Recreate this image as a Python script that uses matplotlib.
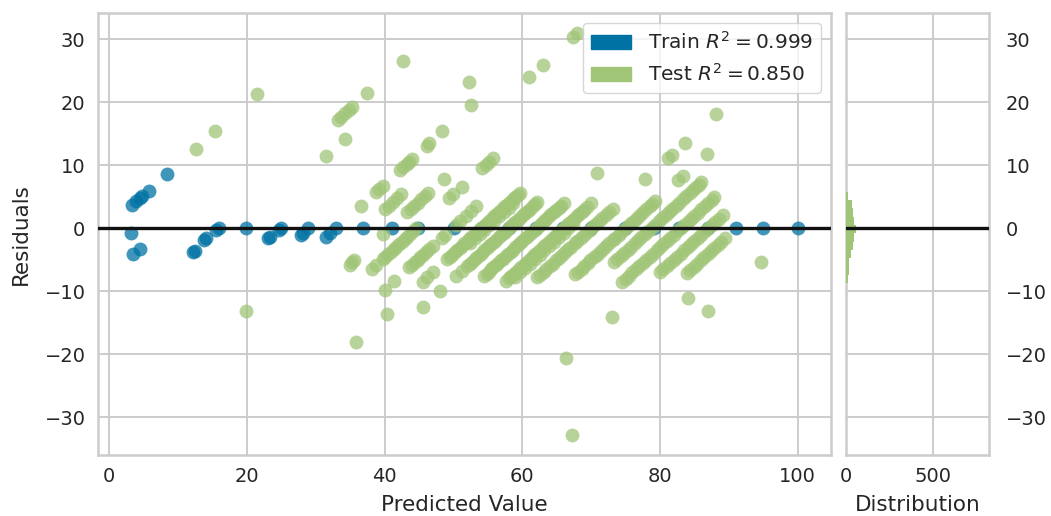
import numpy as np
import matplotlib
matplotlib.use("Agg")
import matplotlib.pyplot as plt
from matplotlib.patches import Patch

# Train points: predicted value and residual
train_pred = [3.3, 3.9, 4.4, 4.7, 5.8, 8.4, 3.2, 3.4, 4.5,
              12.2, 12.4, 13.8, 14.1, 15.5, 16.0, 19.9, 23.1, 23.3, 24.6, 25.0,
              27.9, 28.2, 28.9, 31.5, 32.0, 33.0, 36.8, 41.0, 44.8, 50.1, 54.2,
              58.1, 62.0, 65.9, 70.0, 74.9, 79.2, 82.8, 86.9, 91.0, 95.0, 100.0]
train_resid = [3.7, 4.3, 4.8, 5.1, 6.0, 8.6, -0.8, -4.1, -3.3,
               -3.7, -3.6, -1.9, -1.6, -0.3, 0.0, 0.0, -1.6, -1.3, -0.3, 0.0,
               -1.1, -0.8, 0.0, -1.3, -0.8, 0.0, 0.0, 0.0, 0.0, 0.0, 0.0,
               0.0, 0.0, 0.0, 0.0, 0.0, 0.0, 0.0, 0.0, 0.0, 0.0, 0.0]

# Test points grouped by their actual value (residual = predicted - actual)
test_actual = [0, 16, 20, 29, 33, 37, 40.7, 44.6, 49.8, 54, 54.7, 58, 62, 66, 66.7,
               70, 75, 78.7, 83, 87, 91, 95, 100]
test_pred = [
    [12.6, 15.4, 21.4],
    [33.2, 33.7, 34.3, 34.8, 35.2, 37.5, 42.6],
    [31.5, 34.2],
    [52.3],
    [19.8, 36.6, 38.8, 39.2, 39.7, 42.2, 42.7, 43.2, 43.6, 44.0, 46.1, 46.5, 48.4, 52.6],
    [40.0, 40.6, 41.2, 41.8, 42.4, 61.0, 63.0, 67.3, 68.0],
    [34.9, 35.3, 35.6, 39.8, 43.3, 43.8, 44.3, 44.8, 45.3, 45.8, 46.3, 48.6],
    [38.1, 38.8, 39.7, 40.1, 40.5, 40.9, 41.3, 41.7, 42.1, 42.5, 42.9, 43.3, 43.7,
     44.1, 44.6, 49.4, 50.0, 51.2, 54.2, 54.7, 55.2, 55.7],
    [40.0, 41.4, 43.6, 44.0, 44.4, 44.8, 45.2, 45.6, 46.0, 46.5, 47.0, 48.3, 48.7,
     50.3, 51.0, 51.8, 52.6, 53.3],
    [35.9, 40.4, 45.5, 46.2, 47.0, 49.1, 49.5, 49.8, 50.2, 50.5, 50.9, 51.2, 51.6,
     51.9, 52.3, 52.6, 53.0, 53.3, 53.7, 54.0, 54.4, 54.7, 55.1, 55.4, 55.8, 56.1,
     56.5, 56.8, 57.2, 57.5, 57.9, 58.2, 58.6, 58.9, 59.3, 59.6],
    [52.4, 53.1, 53.8, 54.5, 55.2, 55.9, 56.6, 57.3, 58.0, 58.7],
    [45.5, 48.0, 50.4, 51.2, 52.0, 52.4, 52.7, 53.1, 53.4, 53.8, 54.1, 54.5, 54.8,
     55.2, 55.5, 55.9, 56.2, 56.6, 56.9, 57.3, 57.6, 58.0, 58.3, 58.7, 59.0, 59.4,
     59.7, 60.1, 60.4, 60.8, 61.1, 61.5, 61.8, 62.2],
    [54.4, 54.8, 55.1, 55.5, 55.8, 56.2, 56.5, 56.9, 57.2, 57.6, 57.9, 58.3, 58.6,
     59.0, 59.3, 59.7, 60.0, 60.4, 60.7, 61.1, 61.4, 61.8, 62.1, 62.5, 62.8, 63.2,
     63.5, 63.9, 64.2, 64.6, 64.9, 65.3, 65.6, 66.1, 70.8],
    [57.7, 58.1, 58.4, 58.8, 59.1, 59.5, 59.8, 60.2, 60.5, 60.9, 61.2, 61.6, 61.9,
     62.3, 62.6, 63.0, 63.3, 63.7, 64.0, 64.4, 64.7, 65.1, 65.4, 65.8, 66.1, 66.5,
     66.8, 67.2, 67.5, 67.9, 68.2, 68.6, 68.9, 69.4, 70.0],
    [59.0, 59.7, 60.4, 61.1, 61.8, 62.5, 63.2, 63.9, 64.6, 65.3, 66.0, 66.7, 67.4],
    [62.2, 62.6, 63.1, 63.5, 64.0, 64.4, 64.9, 65.3, 65.8, 66.2, 66.7, 67.1, 67.6,
     68.0, 68.5, 68.9, 69.4, 69.8, 70.3, 70.7, 71.2, 71.6, 72.1, 72.6, 73.1,
     77.8, 81.1, 81.7, 83.6, 88.2],
    [67.7, 68.1, 68.6, 69.0, 69.5, 69.9, 70.4, 70.8, 71.3, 71.7, 72.2, 72.6, 73.1,
     73.5, 74.0, 74.4, 74.9, 75.3, 75.8, 76.2, 76.7, 77.1, 77.6, 78.0, 78.5, 78.9,
     79.3, 82.6, 83.3, 86.8],
    [73.3, 73.8, 74.3, 74.8, 75.3, 75.8, 76.3, 76.8, 77.3, 77.8, 78.3, 78.8, 79.3,
     79.8, 80.3, 80.8, 81.3, 81.8, 82.3, 82.8, 83.3, 83.8, 84.3, 84.8, 85.3, 85.6, 86.0],
    [74.5, 75.0, 75.5, 76.0, 76.5, 77.0, 77.5, 78.0, 78.5, 79.0, 79.5, 80.0, 80.5,
     81.0, 81.5, 82.0, 82.5, 83.0, 83.5, 84.0, 84.5, 85.0, 85.5, 86.0, 86.5, 87.0,
     87.5, 87.9],
    [66.4, 73.0, 80.0, 80.5, 81.0, 81.5, 82.0, 82.5, 83.0, 83.5, 84.0, 84.5, 85.0,
     85.5, 86.0, 86.5, 87.0, 87.5, 88.0, 88.5, 89.1],
    [83.9, 84.4, 84.9, 85.4, 85.9, 86.4, 86.9, 87.4, 87.9, 88.4, 88.9, 89.4],
    [84.0],
    [67.2, 86.9, 94.6],
]

# Residual histograms (bin bottom edge, counts)
test_bin_lo = [4.49, 3.17, 1.85, 0.53, -0.79, -2.11, -3.43, -4.76, -6.08, -7.40, -8.72]
test_bin_counts = [13, 32, 38, 45, 55, 45, 42, 26, 19, 15, 9]
test_bin_width = 1.32
train_bin_lo = [0.0, -0.26]
train_bin_counts = [780, 160]
train_bin_width = 0.26

train_r2 = 0.999
test_r2 = 0.850

train_color = "#0072A3"
test_color = "#A0C577"
text_color = "#262626"
grid_color = "#cccccc"

plt.rcParams["font.family"] = "DejaVu Sans"
plt.rcParams["text.color"] = text_color
plt.rcParams["axes.labelcolor"] = text_color
plt.rcParams["xtick.color"] = text_color
plt.rcParams["ytick.color"] = text_color

fig = plt.figure(figsize=(10.51, 5.16), dpi=100)
ax = fig.add_axes([98 / 1051, 61 / 516, 733 / 1051, 442 / 516])
hax = fig.add_axes([846 / 1051, 61 / 516, 143 / 1051, 442 / 516], sharey=ax)

test_x, test_y = [], []
for actual, preds in zip(test_actual, test_pred):
    for p in preds:
        test_x.append(p)
        test_y.append(p - actual)

ax.scatter(train_pred, train_resid, s=100, c=train_color, alpha=0.75, linewidths=0, zorder=2)
ax.scatter(test_x, test_y, s=100, c=test_color, alpha=0.75, linewidths=0, zorder=3)
ax.axhline(0, color="#111111", lw=2.4, zorder=4)

hax.barh(np.array(train_bin_lo) + train_bin_width / 2, train_bin_counts,
         height=train_bin_width, color=train_color, zorder=2)
hax.barh(np.array(test_bin_lo) + test_bin_width / 2, test_bin_counts,
         height=test_bin_width, color=test_color, zorder=3)
hax.axhline(0, color="#111111", lw=2.4, zorder=4)

for a in (ax, hax):
    a.set_facecolor("white")
    a.grid(True, color=grid_color, lw=1.4, zorder=0)
    a.set_axisbelow(True)
    for sp in a.spines.values():
        sp.set_color(grid_color)
        sp.set_linewidth(1.8)
    a.tick_params(length=0, labelsize=14, pad=9)

ax.set_xticks([0, 20, 40, 60, 80, 100])
ax.set_yticks([-30, -20, -10, 0, 10, 20, 30])
ax.set_xlabel("Predicted Value", fontsize=15.5, labelpad=6)
ax.set_ylabel("Residuals", fontsize=15.5, labelpad=10)

hax.set_xticks([0, 500])
hax.set_xlabel("Distribution", fontsize=15.5, labelpad=6)
hax.tick_params(axis="y", labelleft=False, labelright=True, pad=12)

handles = [Patch(color=train_color, label="Train $R^2 = {:.3f}$".format(train_r2)),
           Patch(color=test_color, label="Test $R^2 = {:.3f}$".format(test_r2))]
leg = ax.legend(handles=handles, loc="upper right", fontsize=14.5, frameon=True,
                framealpha=0.8, edgecolor=grid_color)

fig.savefig("out.png", dpi=100)
